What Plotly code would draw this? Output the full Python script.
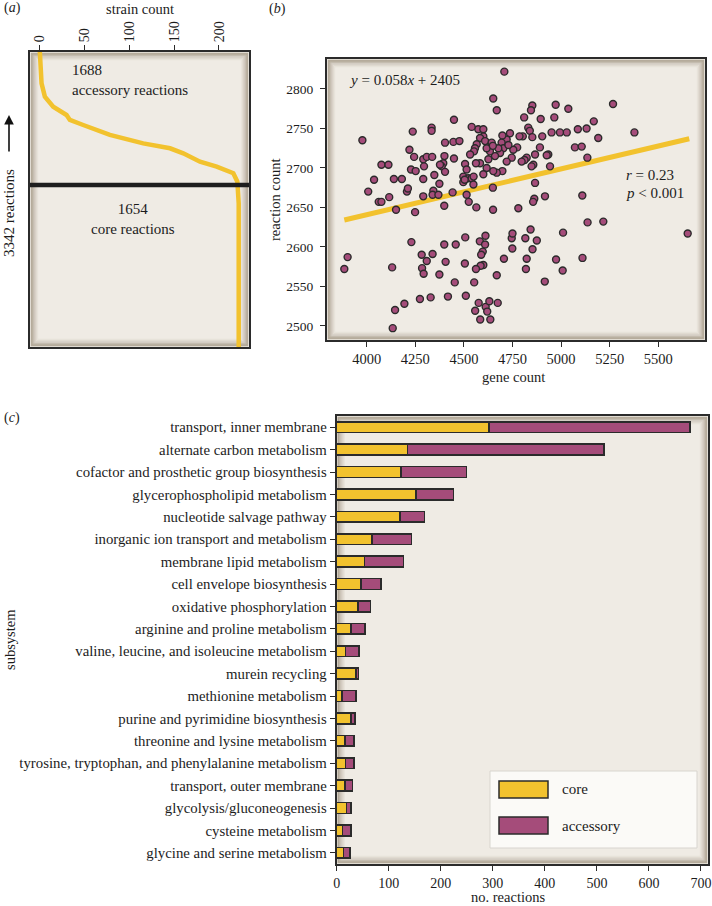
import plotly.graph_objects as go

W, H = 712, 906
def PX(x): return x / W
def PY(y): return 1 - y / H

FONT = "Liberation Serif, DejaVu Serif, serif"
TXT = "#1c1c1c"
YEL = "#f2c22e"
PUR = "#a54c7a"
EDGE = "#2b2b2b"
BG = "#efebe4"

# ---------------- panel (a) data ----------------
strain_count = [0, 0.7, 1.9, 5.6, 14.9, 29.8, 33.5, 48.4, 78.2, 115.4, 145.3, 160.1,
                178.8, 197.4, 216, 220.5, 220.9, 222, 222]
reaction_rank = [0, 166, 355, 506, 620, 714, 770, 827, 940, 1035, 1091, 1148,
                 1243, 1299, 1374, 1469, 1639, 1714, 3342]
total_reactions = 3342
core_boundary = 1507
accessory_n = 1688
core_n = 1654
strain_ticks = [0, 50, 100, 150, 200]

# ---------------- panel (b) data ----------------
gene_count = [4708, 4651, 4669, 4852, 4845, 4895, 4972, 5037, 4965, 5267, 5168, 5377, 5191,
              5131, 5086, 5071, 5106, 5135, 5029, 4994, 4951, 4943, 4934, 4926, 4891, 4903,
              4810, 4831, 4839, 4803, 4786, 4852, 4857, 4848, 4866, 4823, 4812, 4797, 4774,
              4754, 4737, 4720, 4698, 4694, 4703, 4729, 4746, 4720, 4686, 4660, 4634, 4677,
              4698, 4669, 4651, 4617, 4600, 4583, 4562, 4626, 4617, 4600, 4583, 4609, 4574,
              4600, 4540, 4643, 4649, 4566, 4557, 4552, 4532, 4506, 4514, 4497, 4523, 4540,
              4549, 4449, 4403, 4446, 4477, 4449, 4400, 4394, 4386, 4377, 4403, 4334, 4334,
              4237, 4220, 4244, 4228, 4252, 4291, 4309, 4337, 4295, 4291, 4348, 4374, 4343,
              4339, 4369, 3978, 4076, 4112, 4038, 4140, 4181, 4008, 4116, 4207, 4212, 4442,
              4497, 4862, 4917, 5109, 4291, 4514, 4649, 4866, 4504, 4550,
              4062, 4076, 4151, 4249, 4399, 4525, 4564, 4650, 4780, 4856,
              5136, 5217, 5651, 4230, 4399, 4458, 4507, 4611, 4582, 4609, 4597, 4589, 4600,
              4586, 4746, 4750, 4749, 4843, 4816, 4875, 4853, 4823, 4819, 4706, 4974, 5010,
              5008, 5110, 3902, 3885, 4131, 4283, 4309, 4339, 4285, 4293, 4406, 4374, 4505,
              4562, 4453, 4553, 4669, 4916, 4146, 4194, 4274, 4329, 4418, 4510, 4558, 4576,
              4612, 4620, 4631, 4674, 4584, 4636, 4134]
reaction_count = [2822, 2788, 2773, 2779, 2773, 2762, 2780, 2775, 2764, 2781, 2759, 2745, 2738,
                  2750, 2749, 2726, 2727, 2713, 2745, 2745, 2745, 2702, 2717, 2716, 2726, 2740,
                  2764, 2751, 2747, 2740, 2740, 2739, 2704, 2702, 2717, 2713, 2710, 2708, 2726,
                  2723, 2744, 2736, 2741, 2732, 2725, 2729, 2713, 2708, 2719, 2715, 2721, 2725,
                  2696, 2694, 2696, 2700, 2692, 2706, 2706, 2711, 2725, 2740, 2738, 2734, 2749,
                  2749, 2752, 2732, 2728, 2730, 2725, 2721, 2717, 2705, 2698, 2689, 2687, 2687,
                  2679, 2761, 2732, 2733, 2734, 2712, 2715, 2706, 2702, 2704, 2695, 2751, 2747,
                  2746, 2723, 2714, 2698, 2696, 2711, 2714, 2714, 2702, 2686, 2691, 2680, 2671,
                  2666, 2666, 2735, 2704, 2704, 2685, 2686, 2686, 2670, 2663, 2670, 2674, 2669,
                  2682, 2661, 2664, 2665, 2664, 2666, 2675, 2681, 2685, 2689,
                  2657, 2657, 2647, 2644, 2652, 2657, 2650, 2647, 2649, 2657,
                  2631, 2632, 2617, 2606, 2603, 2603, 2612, 2614, 2607, 2603, 2594, 2590, 2577,
                  2576, 2611, 2617, 2598, 2622, 2611, 2608, 2597, 2585, 2572, 2585, 2584, 2618,
                  2570, 2586, 2587, 2572, 2574, 2590, 2582, 2591, 2573, 2566, 2581, 2565, 2579,
                  2572, 2555, 2555, 2564, 2556, 2520, 2528, 2534, 2536, 2537, 2538, 2519, 2529,
                  2524, 2518, 2531, 2529, 2508, 2508, 2497]
fit_x = [3885, 5659]
fit_y = [2634, 2737]
gene_ticks = [4000, 4250, 4500, 4750, 5000, 5250, 5500]
rxn_ticks = [2500, 2550, 2600, 2650, 2700, 2750, 2800]

# ---------------- panel (c) data ----------------
subsystems = ["transport, inner membrane", "alternate carbon metabolism",
              "cofactor and prosthetic group biosynthesis", "glycerophospholipid metabolism",
              "nucleotide salvage pathway", "inorganic ion transport and metabolism",
              "membrane lipid metabolism", "cell envelope biosynthesis",
              "oxidative phosphorylation", "arginine and proline metabolism",
              "valine, leucine, and isoleucine metabolism", "murein recycling",
              "methionine metabolism", "purine and pyrimidine biosynthesis",
              "threonine and lysine metabolism",
              "tyrosine, tryptophan, and phenylalanine metabolism",
              "transport, outer membrane", "glycolysis/gluconeogenesis",
              "cysteine metabolism", "glycine and serine metabolism"]
core = [293, 136, 124, 152, 122, 68, 53, 47, 41, 27, 17, 37, 10, 27, 16, 17, 16, 19, 11, 13]
total = [679, 514, 249, 224, 169, 144, 128, 85, 65, 54, 43, 42, 37, 35, 33, 33, 30, 27, 27, 26]
accessory = [t - c for t, c in zip(total, core)]
bar_ticks = [0, 100, 200, 300, 400, 500, 600, 700]

fig = go.Figure()

# panel (a)
fig.add_trace(go.Scatter(x=strain_count, y=reaction_rank, mode="lines",
                         line=dict(color=YEL, width=4.5), xaxis="x", yaxis="y",
                         showlegend=False, hoverinfo="skip"))
# panel (b)
fig.add_trace(go.Scatter(x=fit_x, y=fit_y, mode="lines", line=dict(color=YEL, width=5),
                         xaxis="x2", yaxis="y2", showlegend=False))
fig.add_trace(go.Scatter(x=gene_count, y=reaction_count, mode="markers",
                         marker=dict(color=PUR, size=7, line=dict(color=EDGE, width=1.4)),
                         xaxis="x2", yaxis="y2", showlegend=False))
# panel (c)
fig.add_trace(go.Bar(y=subsystems, x=core, orientation="h", name="core",
                     marker=dict(color=YEL, line=dict(color=EDGE, width=1.5)),
                     xaxis="x3", yaxis="y3", showlegend=False))
fig.add_trace(go.Bar(y=subsystems, x=accessory, orientation="h", name="accessory",
                     marker=dict(color=PUR, line=dict(color=EDGE, width=1.5)),
                     xaxis="x3", yaxis="y3", showlegend=False))

def tf(size):
    return dict(family=FONT, size=size, color=TXT)

common = dict(showline=True, mirror=True, linecolor=EDGE, linewidth=2, showgrid=False,
              zeroline=False, ticks="outside", ticklen=5, tickcolor=EDGE, tickwidth=1.3,
              automargin=False)

boxes = {
    "a": (30, 52, 249, 347),
    "b": (327, 59, 705, 340),
    "c": (336.7, 416, 708, 864),
}

fig.update_layout(
    width=W, height=H, margin=dict(l=0, r=0, t=0, b=0),
    paper_bgcolor="white", plot_bgcolor=BG, barmode="stack", bargap=0.52,
    font=dict(family=FONT, size=14, color=TXT),
    xaxis=dict(domain=[PX(30), PX(249)], anchor="y", side="top", range=[-11, 233.5],
               tickvals=strain_ticks, tickangle=-90, tickfont=tf(14), **common),
    yaxis=dict(domain=[PY(347), PY(52)], anchor="x", range=[total_reactions, 0],
               showline=True, mirror=True, linecolor=EDGE, linewidth=2, showgrid=False,
               zeroline=False, showticklabels=False, ticks=""),
    xaxis2=dict(domain=[PX(327), PX(705)], anchor="y2", range=[3796, 5740],
                tickvals=gene_ticks, tickfont=tf(14.5), **common),
    yaxis2=dict(domain=[PY(340), PY(59)], anchor="x2", range=[2482, 2838],
                tickvals=rxn_ticks, tickfont=tf(13.5), ticklabelstandoff=4, **common),
    xaxis3=dict(domain=[PX(336.7), PX(708)], anchor="y3", range=[0, 713.5],
                tickvals=bar_ticks, tickfont=tf(14), **common),
    yaxis3=dict(domain=[PY(864), PY(416)], anchor="x3", autorange="reversed",
                type="category", tickfont=tf(14.8), **common),
)

shapes = []
# inner vignette of each panel
for (x0, y0, x1, y1) in boxes.values():
    for i, a in enumerate([0.40, 0.30, 0.22, 0.15, 0.09, 0.05]):
        d = 1.5 + i * 1.2
        shapes.append(dict(type="rect", xref="paper", yref="paper", layer="below",
                           x0=PX(x0 + d), x1=PX(x1 - d), y0=PY(y1 - d), y1=PY(y0 + d),
                           line=dict(color=f"rgba(95,75,45,{a})", width=1.4)))
# core / accessory boundary in panel (a)
shapes.append(dict(type="line", xref="x domain", yref="y", x0=0, x1=1,
                   y0=core_boundary, y1=core_boundary, line=dict(color="#1e1e1e", width=4.5)))
# custom legend for panel (c)
shapes.append(dict(type="rect", xref="paper", yref="paper", x0=PX(490), x1=PX(697),
                   y0=PY(848), y1=PY(771), fillcolor="#fbfaf7",
                   line=dict(color="#d8d5cf", width=1)))
shapes.append(dict(type="rect", xref="paper", yref="paper", x0=PX(499), x1=PX(548),
                   y0=PY(798), y1=PY(781), fillcolor=YEL, line=dict(color=EDGE, width=1.5)))
shapes.append(dict(type="rect", xref="paper", yref="paper", x0=PX(499), x1=PX(548),
                   y0=PY(834), y1=PY(817), fillcolor=PUR, line=dict(color=EDGE, width=1.5)))
fig.update_layout(shapes=shapes)

def ann(text, x, y, size=14, xanchor="center", angle=0, align="center"):
    return dict(text=text, x=PX(x), y=PY(y), xref="paper", yref="paper", showarrow=False,
                xanchor=xanchor, yanchor="middle", textangle=angle, align=align,
                font=dict(family=FONT, size=size, color=TXT))

annotations = [
    ann("(<i>a</i>)", 2, 8, 14, "left"),
    ann("(<i>b</i>)", 267, 9, 14, "left"),
    ann("(<i>c</i>)", 2, 418, 14, "left"),
    ann("strain count", 139.5, 9, 14.5),
    ann("3342 reactions", 9, 213, 15, angle=-90),
    ann(f"{accessory_n}<br>accessory reactions", 70, 80, 15, "left", align="left"),
    ann(f"{core_n}<br>core reactions", 133, 219, 15),
    ann("reaction count", 275, 200, 14.5, angle=-90),
    ann("gene count", 513, 377, 14.5),
    ann("<i>y</i> = 0.058<i>x</i> + 2405", 347, 80, 15, "left"),
    ann("<i>r</i> = 0.23", 624, 175, 15, "left"),
    ann("<i>p</i> &lt; 0.001", 624, 193, 15, "left"),
    ann("subsystem", 10, 640, 14.5, angle=-90),
    ann("no. reactions", 508, 897, 14.5),
    ann("core", 560, 789, 15, "left"),
    ann("accessory", 560, 826, 15, "left"),
]
# arrow beside "3342 reactions"
annotations.append(dict(x=PX(9), y=PY(115), xref="paper", yref="paper", text="",
                        showarrow=True, ax=0, ay=38, arrowhead=2, arrowsize=1.2,
                        arrowwidth=1.6, arrowcolor="#111"))
fig.update_layout(annotations=annotations)

fig.write_html("out.html", config={"displayModeBar": False},
               post_script="document.body.style.margin='0';document.body.style.padding='0';"
                           "document.documentElement.style.overflow='hidden';")
